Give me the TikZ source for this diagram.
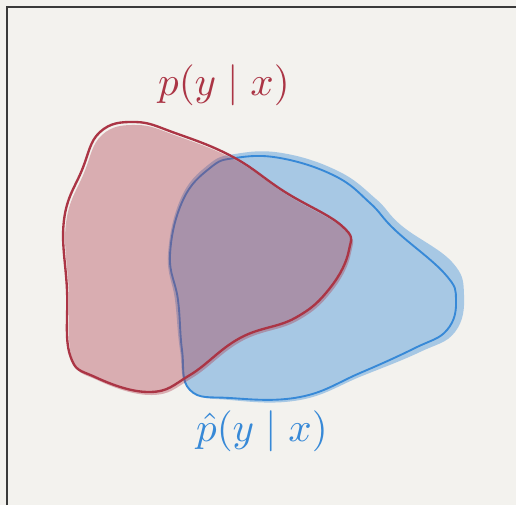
\documentclass[tikz,border=0pt]{standalone}
\usepackage{tikz}
\usetikzlibrary{calc, positioning}

\definecolor{paper}{HTML}{F3F2EE}
\definecolor{frame}{HTML}{3A3A3A}
\definecolor{truered}{HTML}{AB3545}
\definecolor{modelblue}{HTML}{3789D7}

\begin{document}
\begin{tikzpicture}[x=0.03cm, y=-0.03cm,
        redfill/.style={fill=truered, fill opacity=0.36},
        redline/.style={draw=truered, line width=2pt},
        bluefill/.style={fill=modelblue, fill opacity=0.4},
        blueline/.style={draw=modelblue, line width=1.6pt},
        label/.style={inner sep=0pt, anchor=base, scale=3.5}]
        \fill[paper] (0,0) rectangle (516,505);
        \useasboundingbox (0,0) rectangle (516,505);
        \draw[frame, line width=1.3pt] (7,505) -- (7,7) -- (516,7);

        % model distribution
        \fill[bluefill] plot[smooth cycle, tension=0.7] coordinates {
            (235,154) (282,153) (338,171) (376,199) (402,226) (452,262) (464,295)
            (455,332) (420,352) (362,376) (300,400) (230,400) (189,390) (180,350)
            (175,300) (168,255) (181,198) (208,165)};
        \draw[blueline] plot[smooth cycle, tension=0.7] coordinates {
            (235,158) (280,158) (335,176) (370,203) (395,230) (445,274) (456,300)
            (447,330) (415,348) (360,373) (300,397) (230,398) (190,390) (182,350)
            (178,300) (170,255) (183,200) (210,168)};

        % true distribution
        \fill[redfill, shift={(2,3)}] plot[smooth cycle, tension=0.7] coordinates {
            (100,132) (135,122) (175,133) (233,157) (285,192) (342,226) (349,250)
            (330,288) (295,318) (240,338) (190,375) (150,392) (95,377) (70,355)
            (67,290) (64,220) (82,170)};
        \draw[redline] plot[smooth cycle, tension=0.7] coordinates {
            (100,132) (135,122) (175,133) (233,157) (285,192) (342,226) (349,250)
            (330,288) (295,318) (240,338) (190,375) (150,392) (95,377) (70,355)
            (67,290) (64,220) (82,170)};

        \node[label, text=truered] (ptrue) at (224,95) {$p(y \mid x)$};
        \node[label, text=modelblue] (pmodel) at (262,441) {$\hat{p}(y \mid x)$};
    \end{tikzpicture}
\end{document}
